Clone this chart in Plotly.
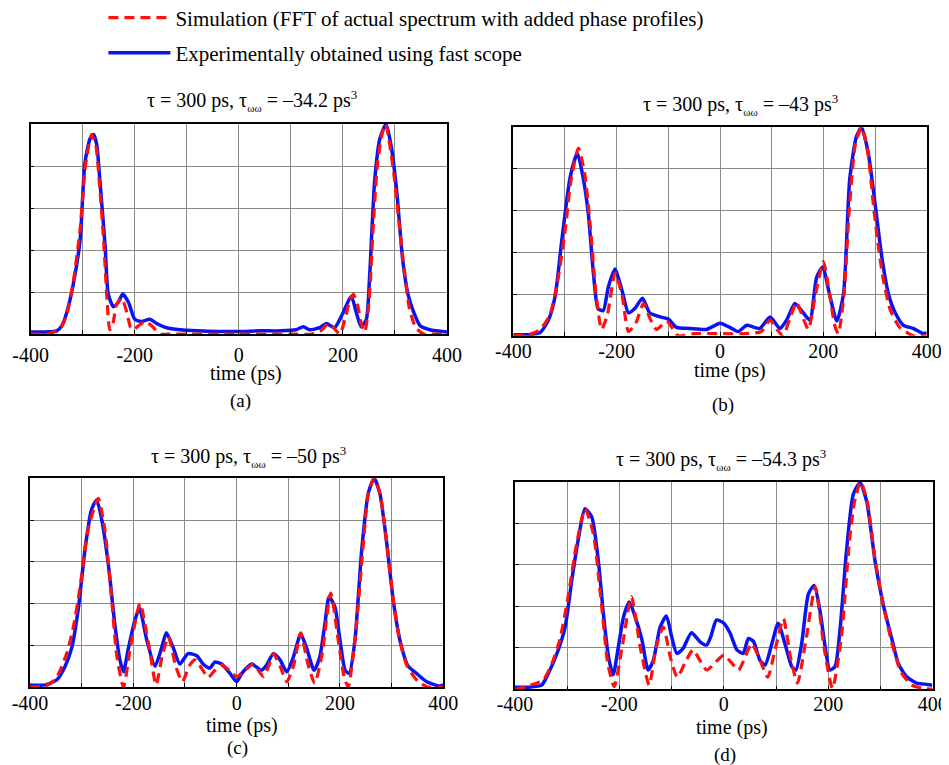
import plotly.graph_objects as go

# ---------------- data (normalized intensity vs time in ps) ----------------
a_t_exp = [-400,-370,-350,-340,-331,-318,-305,-296,-286,-279,-273,-267,-257,-251,-241,-232,-223,-212,-200,-187,-171,-158,-139,-113,-80,-40,0,40,80,110,124,136,155,168,184,200,216,226,235,245,251,261,271,283,293,303,315,325,335,348,367,400]
a_exp = [0.01,0.01,0.015,0.04,0.1,0.24,0.45,0.81,0.93,0.95,0.9,0.73,0.42,0.19,0.13,0.15,0.19,0.15,0.07,0.06,0.07,0.05,0.03,0.02,0.015,0.012,0.012,0.015,0.015,0.02,0.035,0.02,0.03,0.05,0.03,0.1,0.18,0.1,0.035,0.07,0.26,0.73,0.93,1.0,0.89,0.69,0.35,0.19,0.11,0.04,0.02,0.01]
a_t_sim = [-400,-370,-355,-340,-330,-318,-305,-295,-283,-275,-268,-260,-253,-248,-242,-235,-225,-215,-208,-203,-195,-180,-168,-151,-130,-100,0,100,140,160,171,182,194,205,212,220,228,236,242,250,258,266,275,282,290,300,309,318,328,340,355,370,400]
a_sim = [0,0,0.01,0.04,0.1,0.25,0.5,0.8,0.95,0.9,0.72,0.45,0.15,0.02,0.05,0.14,0.17,0.1,0.03,0.02,0.035,0.06,0.04,0.0,0,0,0,0,0,0.02,0.05,0.03,0.0,0.08,0.15,0.19,0.14,0.04,0.01,0.15,0.5,0.8,0.95,1.0,0.9,0.72,0.5,0.3,0.12,0.03,0.0,0,0]

b_t_exp = [-400,-370,-348,-332,-319,-306,-290,-276,-265,-255,-245,-236,-226,-216,-203,-190,-177,-165,-150,-136,-116,-100,-84,-58,-26,0,19,35,52,77,97,116,129,145,161,174,187,199,210,226,239,251,264,274,287,300,313,326,339,355,374,393,400]
b_exp = [0.005,0.005,0.015,0.075,0.19,0.46,0.76,0.875,0.76,0.59,0.3,0.13,0.12,0.235,0.32,0.22,0.11,0.13,0.18,0.11,0.09,0.08,0.04,0.035,0.03,0.06,0.04,0.02,0.05,0.035,0.09,0.035,0.075,0.155,0.11,0.075,0.28,0.33,0.22,0.07,0.2,0.75,0.955,1.0,0.875,0.635,0.38,0.2,0.11,0.05,0.035,0.01,0.015]
b_t_sim = [-400,-370,-348,-329,-315,-300,-288,-274,-262,-250,-240,-229,-218,-203,-190,-177,-163,-148,-135,-123,-103,-81,-50,0,50,80,97,110,122,135,148,160,171,185,200,212,222,229,240,250,262,274,286,298,308,316,330,348,374,400]
b_sim = [0,0.005,0.03,0.1,0.25,0.5,0.75,0.9,0.78,0.5,0.2,0.03,0.1,0.3,0.2,0.02,0.06,0.155,0.08,0.03,0.07,0.0,0.01,0.01,0.01,0.02,0.075,0.03,0.0,0.08,0.16,0.09,0.03,0.2,0.355,0.2,0.05,0.01,0.2,0.6,0.92,1.0,0.88,0.6,0.4,0.27,0.12,0.04,0.0,0]

c_t_exp = [-400,-370,-348,-332,-319,-306,-293,-281,-271,-261,-248,-236,-226,-219,-210,-197,-188,-174,-158,-145,-136,-123,-110,-94,-77,-65,-52,-42,-29,-13,0,10,29,48,58,71,84,97,110,124,135,150,161,171,179,190,200,210,218,229,242,255,266,277,290,303,316,332,348,368,393,400]
c_exp = [0.01,0.01,0.035,0.1,0.19,0.385,0.67,0.85,0.896,0.8,0.58,0.305,0.13,0.073,0.18,0.32,0.377,0.225,0.1,0.19,0.26,0.19,0.11,0.16,0.15,0.11,0.09,0.12,0.11,0.065,0.025,0.065,0.11,0.08,0.105,0.16,0.13,0.073,0.145,0.254,0.19,0.08,0.145,0.305,0.433,0.385,0.225,0.08,0.065,0.225,0.655,0.93,1.0,0.93,0.7,0.417,0.225,0.1,0.065,0.025,0.005,0.01]
c_t_sim = [-400,-370,-350,-329,-315,-303,-288,-268,-255,-243,-232,-219,-205,-187,-170,-156,-144,-132,-118,-105,-92,-81,-68,-55,-42,-29,-14,0,16,32,42,52,62,71,84,97,110,124,137,151,165,182,198,208,216,230,245,255,266,278,290,303,316,330,350,370,400]
c_sim = [0,0.005,0.04,0.16,0.3,0.48,0.75,0.904,0.75,0.45,0.15,0.0,0.2,0.4,0.2,0.01,0.15,0.24,0.1,0.025,0.1,0.13,0.09,0.046,0.08,0.105,0.08,0.05,0.08,0.11,0.08,0.05,0.1,0.16,0.1,0.025,0.1,0.26,0.12,0.018,0.15,0.45,0.2,0.05,0.0,0.25,0.68,0.93,1.0,0.92,0.7,0.42,0.22,0.1,0.03,0.0,0]

d_t_exp = [-400,-375,-349,-336,-320,-304,-291,-279,-266,-253,-240,-231,-221,-212,-202,-192,-181,-170,-157,-145,-135,-122,-110,-100,-90,-78,-62,-46,-33,-25,-14,0,12,25,37,47,57,69,79,92,104,117,130,138,149,162,173,184,194,203,213,223,235,248,261,274,290,306,322,334,350,369,385,399]
d_exp = [0.01,0.01,0.02,0.077,0.17,0.3,0.53,0.72,0.87,0.83,0.61,0.37,0.157,0.07,0.205,0.35,0.42,0.35,0.24,0.093,0.14,0.3,0.353,0.254,0.173,0.197,0.273,0.23,0.213,0.254,0.334,0.318,0.27,0.19,0.173,0.245,0.23,0.14,0.117,0.22,0.318,0.22,0.11,0.093,0.22,0.46,0.5,0.38,0.205,0.093,0.11,0.3,0.67,0.94,0.995,0.9,0.61,0.4,0.24,0.125,0.06,0.03,0.025,0.02]
d_t_sim = [-400,-378,-346,-330,-314,-298,-282,-266,-250,-236,-222,-210,-195,-177,-160,-143,-130,-116,-102,-89,-74,-59,-46,-33,-16,0,14,28,40,53,68,84,99,114,128,141,158,175,192,208,225,240,250,262,275,290,306,322,340,360,380,400]
d_sim = [0,0.013,0.045,0.12,0.24,0.45,0.7,0.87,0.75,0.45,0.12,0.013,0.2,0.446,0.2,0.02,0.2,0.3,0.15,0.058,0.13,0.19,0.14,0.093,0.13,0.165,0.13,0.093,0.15,0.22,0.15,0.058,0.2,0.34,0.15,0.03,0.25,0.494,0.2,0.005,0.25,0.7,0.9,1.0,0.9,0.62,0.4,0.22,0.08,0.02,0.005,0]

tau_ww = ["–34.2", "–43", "–50", "–54.3"]
labels = ["(a)", "(b)", "(c)", "(d)"]
x_title = "time (ps)"
tick_vals = [-400, -300, -200, -100, 0, 100, 200, 300, 400]
tick_text = ["-400", "", "-200", "", "0", "", "200", "", "400"]
legend_names = ["Simulation (FFT of actual spectrum with added phase profiles)",
                "Experimentally obtained using fast scope"]

# ---------------- layout geometry ----------------
# The page body has an 8px margin, so the figure is 941x757 and page pixels are offset by 8.
OFF = 8
W, H = 949 - OFF, 765 - OFF
FONT = "Liberation Serif, Times New Roman, serif"


def fx(px):
    return (px - OFF) / W


def fy(py):
    return 1 - (py - OFF) / H


panels = [
    dict(x=(30.7, 447.0), y=(124.0, 334.0), title=(252, 100), xt=(246, 373), lab=(240, 401), so=2),
    dict(x=(513.3, 926.7), y=(127.3, 335.7), title=(740, 104), xt=(730, 370), lab=(723, 405), so=-3),
    dict(x=(30.0, 443.3), y=(478.3, 687.0), title=(248, 456), xt=(242, 725), lab=(237, 748), so=-3),
    dict(x=(515.0, 932.7), y=(481.7, 689.3), title=(721, 459), xt=(732, 727), lab=(725, 755), so=-4),
]
series = [(a_t_sim, a_sim, a_t_exp, a_exp), (b_t_sim, b_sim, b_t_exp, b_exp),
          (c_t_sim, c_sim, c_t_exp, c_exp), (d_t_sim, d_sim, d_t_exp, d_exp)]

fig = go.Figure()
annotations = []
for i, (p, (ts, ys, te, ye)) in enumerate(zip(panels, series)):
    n = "" if i == 0 else str(i + 1)
    xa, ya = "x" + n, "y" + n
    fig.add_trace(go.Scatter(x=te, y=ye, xaxis=xa, yaxis=ya, mode="lines",
                             line=dict(color="#0a14f0", width=3.5, shape="spline", smoothing=0.6),
                             name=legend_names[1], legendgroup="exp", legendrank=2,
                             showlegend=(i == 0)))
    fig.add_trace(go.Scatter(x=ts, y=ys, xaxis=xa, yaxis=ya, mode="lines",
                             line=dict(color="#ff1010", width=3.2, dash="10px,6px", shape="spline", smoothing=0.6),
                             name=legend_names[0], legendgroup="sim", legendrank=1,
                             showlegend=(i == 0)))
    axcommon = dict(showline=True, mirror=True, linecolor="black", linewidth=1.5,
                    showgrid=True, gridcolor="#8a8a8a", gridwidth=1, zeroline=False,
                    ticks="inside", ticklen=4, tickcolor="black", automargin=False)
    fig.layout["xaxis" + n] = dict(domain=[fx(p["x"][0]), fx(p["x"][1])], anchor=ya,
                                   range=[-400, 400], tickvals=tick_vals, ticktext=tick_text,
                                   ticklabelstandoff=p["so"],
                                   tickfont=dict(family=FONT, size=20, color="black"),
                                   **axcommon)
    fig.layout["yaxis" + n] = dict(domain=[fy(p["y"][1]), fy(p["y"][0])], anchor=xa,
                                   range=[0, 1.0], dtick=0.2, showticklabels=False, **axcommon)
    title = ("τ = 300 ps, τ<sub><span style='font-size:11px'>ωω</span></sub> = "
             + tau_ww[i] + " ps<sup><span style='font-size:13px'>3</span></sup>")
    for txt, pos, size in ((title, p["title"], 20), (x_title, p["xt"], 20), (labels[i], p["lab"], 19)):
        annotations.append(dict(text=txt, x=fx(pos[0]), y=fy(pos[1]),
                                xref="paper", yref="paper", showarrow=False, xanchor="center",
                                yanchor="middle", font=dict(family=FONT, size=size, color="black")))

fig.update_layout(
    template="none",
    width=W, height=H, margin=dict(l=0, r=0, t=0, b=0, autoexpand=False),
    paper_bgcolor="white", plot_bgcolor="white",
    annotations=annotations,
    showlegend=True,
    legend=dict(x=0.1014, y=1.014, xanchor="left", yanchor="top", bgcolor="rgba(0,0,0,0)",
                font=dict(family=FONT, size=21, color="black"), traceorder="grouped",
                tracegroupgap=5, itemwidth=62),
)
fig.write_html("out.html")
